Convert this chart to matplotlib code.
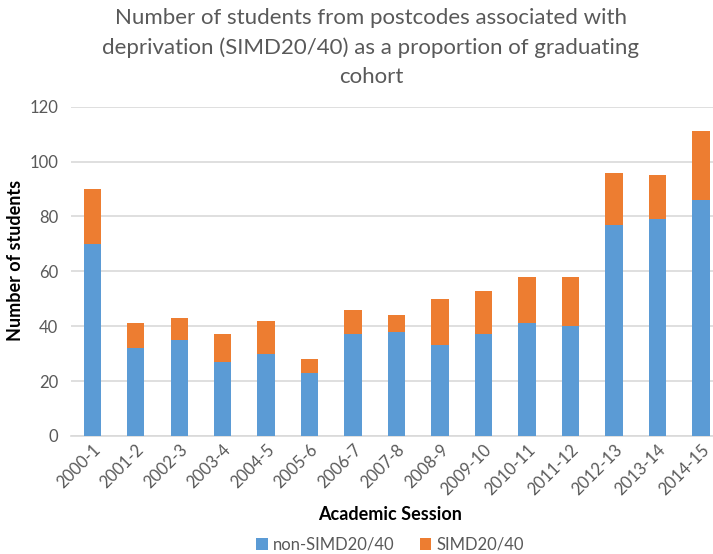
import matplotlib
matplotlib.use("Agg")
import matplotlib.pyplot as plt
import numpy as np

sessions = ["2000-1", "2001-2", "2002-3", "2003-4", "2004-5", "2005-6", "2006-7",
            "2007-8", "2008-9", "2009-10", "2010-11", "2011-12", "2012-13",
            "2013-14", "2014-15"]
non_simd = [70, 32, 35, 27, 30, 23, 37, 38, 33, 37, 41, 40, 77, 79, 86]
simd = [20, 9, 8, 10, 12, 5, 9, 6, 17, 16, 17, 18, 19, 16, 25]
y_ticks = [0, 20, 40, 60, 80, 100, 120]

plt.rcParams["font.family"] = ["Lato", "DejaVu Sans"]

W, H = 713, 554
fig = plt.figure(figsize=(W / 100, H / 100), dpi=100)
left, right, top, bottom = 70.5, 722.7, 106.7, 436
ax = fig.add_axes([left / W, 1 - bottom / H, (right - left) / W, (bottom - top) / H])

blue = "#5b9bd5"
orange = "#ed7d31"
x = np.arange(len(sessions))
ax.bar(x, non_simd, width=0.4, color=blue, label="non-SIMD20/40", zorder=3)
ax.bar(x, simd, width=0.4, bottom=non_simd, color=orange, label="SIMD20/40", zorder=3)

ax.set_xlim(-0.5, len(sessions) - 0.5)
ax.set_ylim(0, 120)
ax.set_yticks(y_ticks)
ax.yaxis.grid(True, color="#d9d9d9", linewidth=1.2, zorder=0)
for s in ["top", "right", "left"]:
    ax.spines[s].set_visible(False)
ax.spines["bottom"].set_color("#d9d9d9")
ax.spines["bottom"].set_linewidth(1.2)
ax.tick_params(axis="y", length=0, labelsize=12, labelcolor="#595959", pad=9)
ax.tick_params(axis="x", length=0, labelsize=12, labelcolor="#595959", pad=4)
ax.set_xticks(x)
ax.set_xticklabels(sessions, rotation=45, ha="right", rotation_mode="anchor")

fig.text(16 / W, 1 - 260 / H, "Number of students", fontsize=13, fontweight="bold",
         rotation=90, ha="center", va="center")
fig.text(390 / W, 1 - 515 / H, "Academic Session", fontsize=13, fontweight="bold",
         ha="center", va="center")

fig.text(371 / W, 1 - 47.5 / H,
         "Number of students from postcodes associated with\n"
         "deprivation (SIMD20/40) as a proportion of graduating\n"
         "cohort",
         fontsize=16, color="#595959", ha="center", va="center", linespacing=1.55)

fig.legend(loc="center", bbox_to_anchor=(390 / W, 1 - 545 / H), ncol=2, frameon=False,
           fontsize=12, labelcolor="#595959", handlelength=0.7, handleheight=0.7,
           handletextpad=0.3, columnspacing=1.5)

fig.savefig("out.png", dpi=100)
